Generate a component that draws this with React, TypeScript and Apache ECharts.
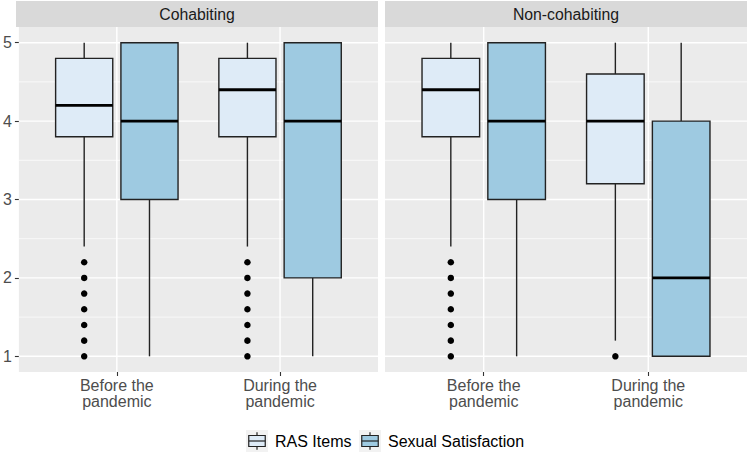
import React, { useEffect, useRef } from "react";
import * as echarts from "echarts";

const panels = ["Cohabiting", "Non-cohabiting"];
const categories = ["Before the\npandemic", "During the\npandemic"];
const groups = ["RAS Items", "Sexual Satisfaction"];
const groupColors = ["#DEEBF7", "#9ECAE1"];

// [lower whisker, Q1, median, Q3, upper whisker] for each category
const rasCohabiting = [
  [2.4, 3.8, 4.2, 4.8, 5],
  [2.4, 3.8, 4.4, 4.8, 5],
];
const sexCohabiting = [
  [1, 3, 4, 5, 5],
  [1, 2, 4, 5, 5],
];
const rasNonCohabiting = [
  [2.4, 3.8, 4.4, 4.8, 5],
  [1.2, 3.2, 4.0, 4.6, 5],
];
const sexNonCohabiting = [
  [1, 3, 4, 5, 5],
  [1, 1, 2, 4, 5],
];

const rasCohabitingOutliers = [
  [2.2, 2.0, 1.8, 1.6, 1.4, 1.2, 1.0],
  [2.2, 2.0, 1.8, 1.6, 1.4, 1.2, 1.0],
];
const sexCohabitingOutliers: number[][] = [[], []];
const rasNonCohabitingOutliers = [
  [2.2, 2.0, 1.8, 1.6, 1.4, 1.2, 1.0],
  [1.0],
];
const sexNonCohabitingOutliers: number[][] = [[], []];

const yTicks = [1, 2, 3, 4, 5];
const yMinor = [1.5, 2.5, 3.5, 4.5];
const xTicks = [1, 2];

const panelBoxes = [
  [rasCohabiting, sexCohabiting],
  [rasNonCohabiting, sexNonCohabiting],
];
const panelOutliers = [
  [rasCohabitingOutliers, sexCohabitingOutliers],
  [rasNonCohabitingOutliers, sexNonCohabitingOutliers],
];

const FONT = "'Liberation Sans', Arial, Helvetica, sans-serif";
const PANEL_LEFT = [16, 385];
const PANEL_W = 362;
const PANEL_TOP = 27;
const PANEL_H = 345;
const STRIP_TOP = 1;
const DODGE = 0.2;
const HALF_W = 0.175;
const STROKE = "#222222";

export default function App() {
  const ref = useRef<HTMLDivElement>(null);

  useEffect(() => {
    if (!ref.current) return;
    const chart = echarts.init(ref.current, undefined, { renderer: "svg" });

    const grids = PANEL_LEFT.map((left) => ({
      left,
      top: PANEL_TOP,
      width: PANEL_W,
      height: PANEL_H,
      show: true,
      backgroundColor: "#EBEBEB",
      borderWidth: 0,
      containLabel: false,
    }));

    const xAxes = PANEL_LEFT.map((_, i) => ({
      type: "value",
      gridIndex: i,
      min: 0.4,
      max: 2.6,
      axisLine: { show: false, onZero: false },
      axisTick: { show: true, length: 4, customValues: xTicks, lineStyle: { color: "#333333", width: 1.1 } },
      axisLabel: {
        show: true,
        customValues: xTicks,
        formatter: (v: number) => categories[Math.round(v) - 1] ?? "",
        color: "#4D4D4D",
        fontSize: 16,
        fontFamily: FONT,
        lineHeight: 16.5,
        margin: 5,
      },
      splitLine: { show: false },
    }));

    const yAxes = PANEL_LEFT.map((_, i) => ({
      type: "value",
      gridIndex: i,
      min: 0.8,
      max: 5.2,
      axisLine: { show: false, onZero: false },
      axisTick: { show: i === 0, length: 4, customValues: yTicks, lineStyle: { color: "#333333", width: 1.1 } },
      axisLabel: {
        show: i === 0,
        customValues: yTicks,
        color: "#4D4D4D",
        fontSize: 16,
        fontFamily: FONT,
        margin: 7,
      },
      splitLine: { show: false },
    }));

    const series: any[] = [];
    PANEL_LEFT.forEach((_, p) => {
      const lines = [
        ...yMinor.map((v) => [1, v]),
        ...yTicks.map((v) => [0, v]),
        ...xTicks.map((v) => [2, v]),
      ];
      series.push({
        type: "custom",
        xAxisIndex: p,
        yAxisIndex: p,
        silent: true,
        z: 1,
        data: lines,
        renderItem: (params: any, api: any) => {
          const kind = api.value(0);
          const v = api.value(1);
          const cs = params.coordSys;
          if (kind === 2) {
            const pt = api.coord([v, 3]);
            return {
              type: "line",
              shape: { x1: pt[0], y1: cs.y, x2: pt[0], y2: cs.y + cs.height },
              style: { stroke: "#FFFFFF", lineWidth: 1.4 },
            };
          }
          const pt = api.coord([1, v]);
          return {
            type: "line",
            shape: { x1: cs.x, y1: pt[1], x2: cs.x + cs.width, y2: pt[1] },
            style: { stroke: "#FFFFFF", lineWidth: kind === 0 ? 1.4 : 0.7 },
          };
        },
      });

      groups.forEach((g, gi) => {
        const offset = gi === 0 ? -DODGE : DODGE;
        const data = panelBoxes[p][gi].map((s, ci) => [ci + 1 + offset, ...s]);
        series.push({
          type: "custom",
          name: g,
          xAxisIndex: p,
          yAxisIndex: p,
          z: 3,
          data,
          renderItem: (_params: any, api: any) => {
            const x = api.value(0);
            const lw = api.value(1);
            const q1 = api.value(2);
            const med = api.value(3);
            const q3 = api.value(4);
            const uw = api.value(5);
            const c = api.coord([x, med]);
            const l = api.coord([x - HALF_W, q3]);
            const r = api.coord([x + HALF_W, q1]);
            const top = api.coord([x, uw]);
            const bot = api.coord([x, lw]);
            return {
              type: "group",
              children: [
                {
                  type: "line",
                  shape: { x1: c[0], y1: top[1], x2: c[0], y2: l[1] },
                  style: { stroke: STROKE, lineWidth: 1.4 },
                },
                {
                  type: "line",
                  shape: { x1: c[0], y1: r[1], x2: c[0], y2: bot[1] },
                  style: { stroke: STROKE, lineWidth: 1.4 },
                },
                {
                  type: "rect",
                  shape: { x: l[0], y: l[1], width: r[0] - l[0], height: r[1] - l[1] },
                  style: { fill: groupColors[gi], stroke: STROKE, lineWidth: 1.4 },
                },
                {
                  type: "line",
                  shape: { x1: l[0], y1: c[1], x2: r[0], y2: c[1] },
                  style: { stroke: "#000000", lineWidth: 2.8 },
                },
              ],
            };
          },
        });

        const pts: number[][] = [];
        panelOutliers[p][gi].forEach((arr, ci) => {
          arr.forEach((v) => pts.push([ci + 1 + offset, v]));
        });
        series.push({
          type: "scatter",
          name: g + " outliers",
          xAxisIndex: p,
          yAxisIndex: p,
          z: 4,
          symbol: "circle",
          symbolSize: 6.5,
          itemStyle: { color: "#000000", borderWidth: 0, opacity: 1 },
          data: pts,
          silent: true,
        });
      });
    });

    const graphic: any[] = [];
    panels.forEach((name, p) => {
      graphic.push({
        type: "rect",
        shape: { x: PANEL_LEFT[p], y: STRIP_TOP, width: PANEL_W, height: PANEL_TOP - STRIP_TOP },
        style: { fill: "#D9D9D9" },
        silent: true,
      });
      graphic.push({
        type: "text",
        x: PANEL_LEFT[p] + PANEL_W / 2,
        y: (STRIP_TOP + PANEL_TOP) / 2 + 0.5,
        style: {
          text: name,
          fill: "#1A1A1A",
          fontSize: 15.8,
          fontFamily: FONT,
          align: "center",
          verticalAlign: "middle",
        },
        silent: true,
      });
    });

    const keyX = [246, 359];
    const textX = [275, 388];
    const keyY = 430;
    const keyS = 22;
    groups.forEach((g, gi) => {
      const kx = keyX[gi];
      const cx = kx + keyS / 2;
      graphic.push({ type: "rect", shape: { x: kx, y: keyY, width: keyS, height: keyS }, style: { fill: "#F2F2F2" }, silent: true });
      graphic.push({ type: "line", shape: { x1: cx, y1: keyY + 2.2, x2: cx, y2: keyY + 5.5 }, style: { stroke: STROKE, lineWidth: 1.2 }, silent: true });
      graphic.push({ type: "line", shape: { x1: cx, y1: keyY + 16.5, x2: cx, y2: keyY + 19.8 }, style: { stroke: STROKE, lineWidth: 1.2 }, silent: true });
      graphic.push({
        type: "rect",
        shape: { x: kx + 2.75, y: keyY + 5.5, width: keyS - 5.5, height: 11 },
        style: { fill: groupColors[gi], stroke: STROKE, lineWidth: 1.2 },
        silent: true,
      });
      graphic.push({ type: "line", shape: { x1: kx + 2.75, y1: keyY + 11, x2: kx + keyS - 2.75, y2: keyY + 11 }, style: { stroke: STROKE, lineWidth: 1.2 }, silent: true });
      graphic.push({
        type: "text",
        x: textX[gi],
        y: keyY + keyS / 2 + 0.5,
        style: { text: g, fill: "#000000", fontSize: 16, fontFamily: FONT, align: "left", verticalAlign: "middle" },
        silent: true,
      });
    });

    chart.setOption({
      animation: false,
      backgroundColor: "#FFFFFF",
      textStyle: { fontFamily: FONT },
      grid: grids,
      xAxis: xAxes,
      yAxis: yAxes,
      series,
      graphic,
    });

    return () => chart.dispose();
  }, []);

  return <div ref={ref} style={{ width: 750, height: 455, position: "absolute", left: 0, top: 0 }} />;
}
